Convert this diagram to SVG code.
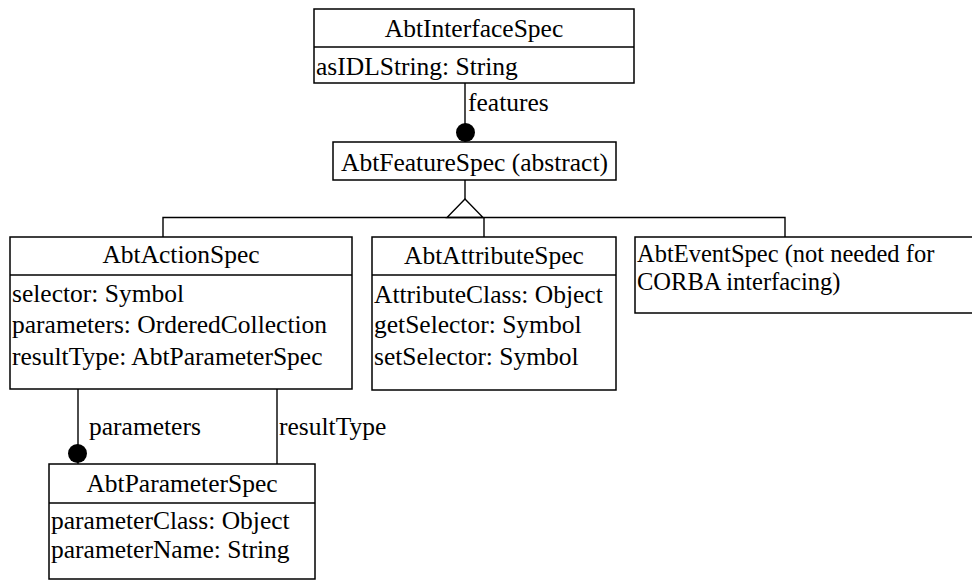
<svg xmlns="http://www.w3.org/2000/svg" width="972" height="580" viewBox="0 0 972 580">
  <style>
    .box { fill: #ffffff; stroke: #000000; stroke-width: 1.5; }
    .sep { stroke: #000000; stroke-width: 1.5; }
    text { font-family: 'Liberation Serif', 'Times New Roman', 'DejaVu Serif', serif; font-size: 25.5px; fill: #000000; }
    .c { text-anchor: middle; }
    .note { font-size: 24.5px; }
    .line { fill: none; stroke: #000000; stroke-width: 1.4; }
    .dot { fill: #000000; }
  </style>
  <rect width="972" height="580" fill="#ffffff"/>

  <g id="connectors">
    <!-- features association -->
    <line class="line" x1="465" y1="83" x2="465" y2="142"/>
    <circle class="dot" cx="465.5" cy="132.5" r="9.5"/>
    <text x="468" y="111">features</text>
    <!-- generalization tree -->
    <line class="line" x1="465" y1="180" x2="465" y2="199"/>
    <polygon class="line" points="465,199 447,217.5 483,217.5"/>
    <polyline class="line" points="163,237 163,217.5 785,217.5 785,237"/>
    <line class="line" x1="484" y1="217.5" x2="484" y2="237"/>
    <!-- parameters association -->
    <line class="line" x1="78" y1="389" x2="78" y2="464"/>
    <circle class="dot" cx="77.5" cy="453.5" r="9.5"/>
    <text x="89" y="435">parameters</text>
    <!-- resultType association -->
    <line class="line" x1="277" y1="389" x2="277" y2="464"/>
    <text x="279" y="435">resultType</text>
  </g>

  <g id="AbtInterfaceSpec">
    <rect class="box" x="314" y="9" width="320" height="74"/>
    <line class="sep" x1="314" y1="47" x2="634" y2="47"/>
    <text class="c" x="474" y="37">AbtInterfaceSpec</text>
    <text x="316" y="75">asIDLString: String</text>
  </g>

  <g id="AbtFeatureSpec">
    <rect class="box" x="333" y="142" width="283" height="38"/>
    <text class="c" x="474.5" y="171">AbtFeatureSpec (abstract)</text>
  </g>

  <g id="AbtActionSpec">
    <rect class="box" x="10" y="237" width="342" height="152"/>
    <line class="sep" x1="10" y1="275" x2="352" y2="275"/>
    <text class="c" x="181" y="263">AbtActionSpec</text>
    <text x="12" y="302">selector: Symbol</text>
    <text x="12" y="333">parameters: OrderedCollection</text>
    <text x="12" y="365">resultType: AbtParameterSpec</text>
  </g>

  <g id="AbtAttributeSpec">
    <rect class="box" x="372" y="237" width="244" height="153"/>
    <line class="sep" x1="372" y1="275" x2="616" y2="275"/>
    <text class="c" x="494" y="264">AbtAttributeSpec</text>
    <text x="374" y="303">AttributeClass: Object</text>
    <text x="374" y="333">getSelector: Symbol</text>
    <text x="374" y="365">setSelector: Symbol</text>
  </g>

  <g id="AbtEventSpec">
    <rect class="box" x="635" y="237" width="345" height="76"/>
    <text class="note" x="637" y="262">AbtEventSpec (not needed for</text>
    <text class="note" x="637" y="289.5">CORBA interfacing)</text>
  </g>

  <g id="AbtParameterSpec">
    <rect class="box" x="49" y="464" width="266" height="115"/>
    <line class="sep" x1="49" y1="503" x2="315" y2="503"/>
    <text class="c" x="182" y="492">AbtParameterSpec</text>
    <text x="51" y="529">parameterClass: Object</text>
    <text x="51" y="558">parameterName: String</text>
  </g>
</svg>
